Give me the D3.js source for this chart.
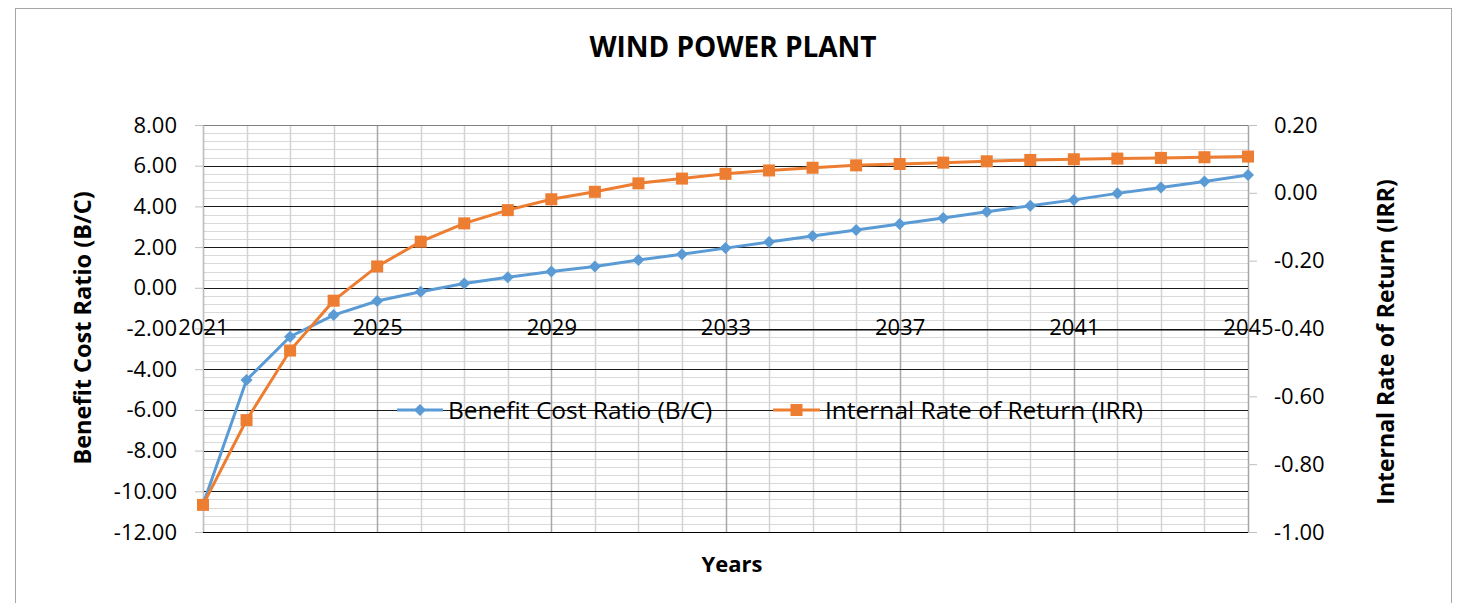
<!DOCTYPE html>
<html>
<head>
<meta charset="utf-8">
<script src="https://cdn.jsdelivr.net/npm/d3@7"></script>
<style>
  body { margin: 0; background: #fff; }
  text { font-family: "Open Sans", "Noto Sans", sans-serif; fill: #000; }
</style>
</head>
<body>
<svg id="canvas"></svg>
<script>
const years = d3.range(2021, 2046);
const yearLabels = [2021, 2025, 2029, 2033, 2037, 2041, 2045];
const bcr = [-10.65, -4.53, -2.40, -1.34, -0.65, -0.19, 0.21, 0.52, 0.80, 1.05, 1.37, 1.65, 1.95,
  2.25, 2.55, 2.84, 3.14, 3.43, 3.74, 4.03, 4.32, 4.64, 4.93, 5.22, 5.54];
const irr = [-0.92, -0.67, -0.465, -0.318, -0.217, -0.144, -0.090, -0.051, -0.019, 0.003, 0.028, 0.042, 0.056,
  0.066, 0.074, 0.081, 0.085, 0.089, 0.093, 0.097, 0.099, 0.101, 0.103, 0.105, 0.107];
const leftTicks = d3.range(-12, 8.01, 2);
const rightTicks = d3.range(-1, 0.201, 0.2);

const width = 1469;
const height = 603;
const plotLeft = 203, plotRight = 1248, plotTop = 125, plotBottom = 532;
const blue = '#5B9BD5';
const orange = '#ED7D31';

const svg = d3.select('#canvas').attr('width', width).attr('height', height);

// outer chart border
svg.append('rect')
  .attr('x', 15.5).attr('y', 8.5)
  .attr('width', 1436).attr('height', 610)
  .attr('fill', 'none').attr('stroke', '#a6a6a6');

const x = d3.scalePoint().domain(years).range([plotLeft, plotRight]);
const yL = d3.scaleLinear().domain([-12, 8]).range([plotBottom, plotTop]);
const yR = d3.scaleLinear().domain([-1, 0.2]).range([plotBottom, plotTop]);

const grid = svg.append('g');

// minor horizontal grid
grid.selectAll('.hmin')
  .data(d3.range(-12, 8.01, 0.4))
  .enter().append('line')
  .attr('x1', plotLeft).attr('x2', plotRight)
  .attr('y1', d => Math.round(yL(d)) + 0.5).attr('y2', d => Math.round(yL(d)) + 0.5)
  .attr('stroke', '#d9d9d9');

// vertical grid, one per year, darker at every labelled year
grid.selectAll('.v')
  .data(years)
  .enter().append('line')
  .attr('x1', d => Math.round(x(d)) + 0.5).attr('x2', d => Math.round(x(d)) + 0.5)
  .attr('y1', plotTop).attr('y2', plotBottom)
  .attr('stroke', d => (d - 2021) % 4 === 0 ? '#a6a6a6' : '#d4d4d4')
  .attr('stroke-width', 1.5);

// major horizontal grid
grid.selectAll('.hmaj')
  .data(leftTicks)
  .enter().append('line')
  .attr('x1', plotLeft).attr('x2', plotRight)
  .attr('y1', d => Math.round(yL(d)) + 0.5).attr('y2', d => Math.round(yL(d)) + 0.5)
  .attr('stroke', d => d === 8 ? '#808080' : '#1a1a1a');

// left axis
const yAxisL = d3.axisLeft(yL).tickValues(leftTicks).tickSize(8).tickPadding(18);
const gL = svg.append('g').attr('transform', `translate(${plotLeft},0)`).call(yAxisL);
gL.select('.domain').attr('stroke', '#bfbfbf');
gL.selectAll('.tick line').attr('stroke', '#bfbfbf');
gL.selectAll('.tick text').attr('font-size', 22).attr('font-family', '"Open Sans", sans-serif')
  .text(d => d.toFixed(2));

// right axis
const yAxisR = d3.axisRight(yR).tickValues(rightTicks).tickSize(9).tickPadding(17);
const gR = svg.append('g').attr('transform', `translate(${plotRight},0)`).call(yAxisR);
gR.select('.domain').attr('stroke', '#a6a6a6');
gR.selectAll('.tick line').attr('stroke', '#bfbfbf');
gR.selectAll('.tick text').attr('font-size', 22).attr('font-family', '"Open Sans", sans-serif')
  .text(d => (Math.abs(d) < 1e-9 ? 0 : d).toFixed(2));

// bottom frame line
svg.append('line')
  .attr('x1', plotLeft).attr('x2', plotRight)
  .attr('y1', plotBottom + 0.5).attr('y2', plotBottom + 0.5)
  .attr('stroke', '#000');

// x axis at -2
const xAxis = d3.axisBottom(x).tickValues(yearLabels).tickSize(0).tickPadding(0);
const gX = svg.append('g').attr('transform', `translate(0,${Math.round(yL(-2)) + 0.5})`).call(xAxis);
gX.select('.domain').attr('stroke', '#000');
gX.selectAll('.tick text').attr('font-size', 22).attr('font-family', '"Open Sans", sans-serif')
  .attr('dy', null).attr('y', 5);

// series
const lineB = d3.line().x((d, i) => x(years[i])).y(d => yL(d));
const lineI = d3.line().x((d, i) => x(years[i])).y(d => yR(d));

svg.append('path').datum(bcr).attr('d', lineB)
  .attr('fill', 'none').attr('stroke', blue).attr('stroke-width', 3);
svg.selectAll('.dia').data(bcr).enter().append('path')
  .attr('d', d3.symbol(d3.symbolDiamond2, 92))
  .attr('transform', (d, i) => `translate(${x(years[i])},${yL(d)})`)
  .attr('fill', blue);

svg.append('path').datum(irr).attr('d', lineI)
  .attr('fill', 'none').attr('stroke', orange).attr('stroke-width', 3);
svg.selectAll('.sq').data(irr).enter().append('rect')
  .attr('x', (d, i) => x(years[i]) - 6).attr('y', d => yR(d) - 6)
  .attr('width', 12).attr('height', 12)
  .attr('fill', orange);

// legend
const legend = svg.append('g').attr('transform', 'translate(0,410)');
legend.append('line').attr('x1', 397).attr('x2', 443).attr('stroke', blue).attr('stroke-width', 3);
legend.append('path').attr('d', d3.symbol(d3.symbolDiamond2, 92)).attr('transform', 'translate(420,0)').attr('fill', blue);
legend.append('text').attr('x', 448).attr('dy', '0.35em').attr('font-size', 24.5).text('Benefit Cost Ratio (B/C)');
legend.append('line').attr('x1', 773).attr('x2', 820).attr('stroke', orange).attr('stroke-width', 3);
legend.append('rect').attr('x', 790.5).attr('y', -6).attr('width', 12).attr('height', 12).attr('fill', orange);
legend.append('text').attr('x', 825).attr('dy', '0.35em').attr('font-size', 24.5).text('Internal Rate of Return (IRR)');

// titles
svg.append('text').attr('x', 733).attr('y', 47).attr('dy', '0.35em')
  .attr('text-anchor', 'middle').attr('font-size', 28).attr('font-weight', 'bold')
  .text('WIND POWER PLANT');
svg.append('text').attr('x', 732).attr('y', 564).attr('dy', '0.35em')
  .attr('text-anchor', 'middle').attr('font-size', 22).attr('font-weight', 'bold')
  .text('Years');
svg.append('text').attr('transform', 'translate(83,328) rotate(-90)').attr('dy', '0.35em')
  .attr('text-anchor', 'middle').attr('font-size', 23.5).attr('font-weight', 'bold')
  .text('Benefit Cost Ratio (B/C)');
svg.append('text').attr('transform', 'translate(1386,342) rotate(-90)').attr('dy', '0.35em')
  .attr('text-anchor', 'middle').attr('font-size', 23).attr('font-weight', 'bold')
  .text('Internal Rate of Return (IRR)');
</script>
</body>
</html>
